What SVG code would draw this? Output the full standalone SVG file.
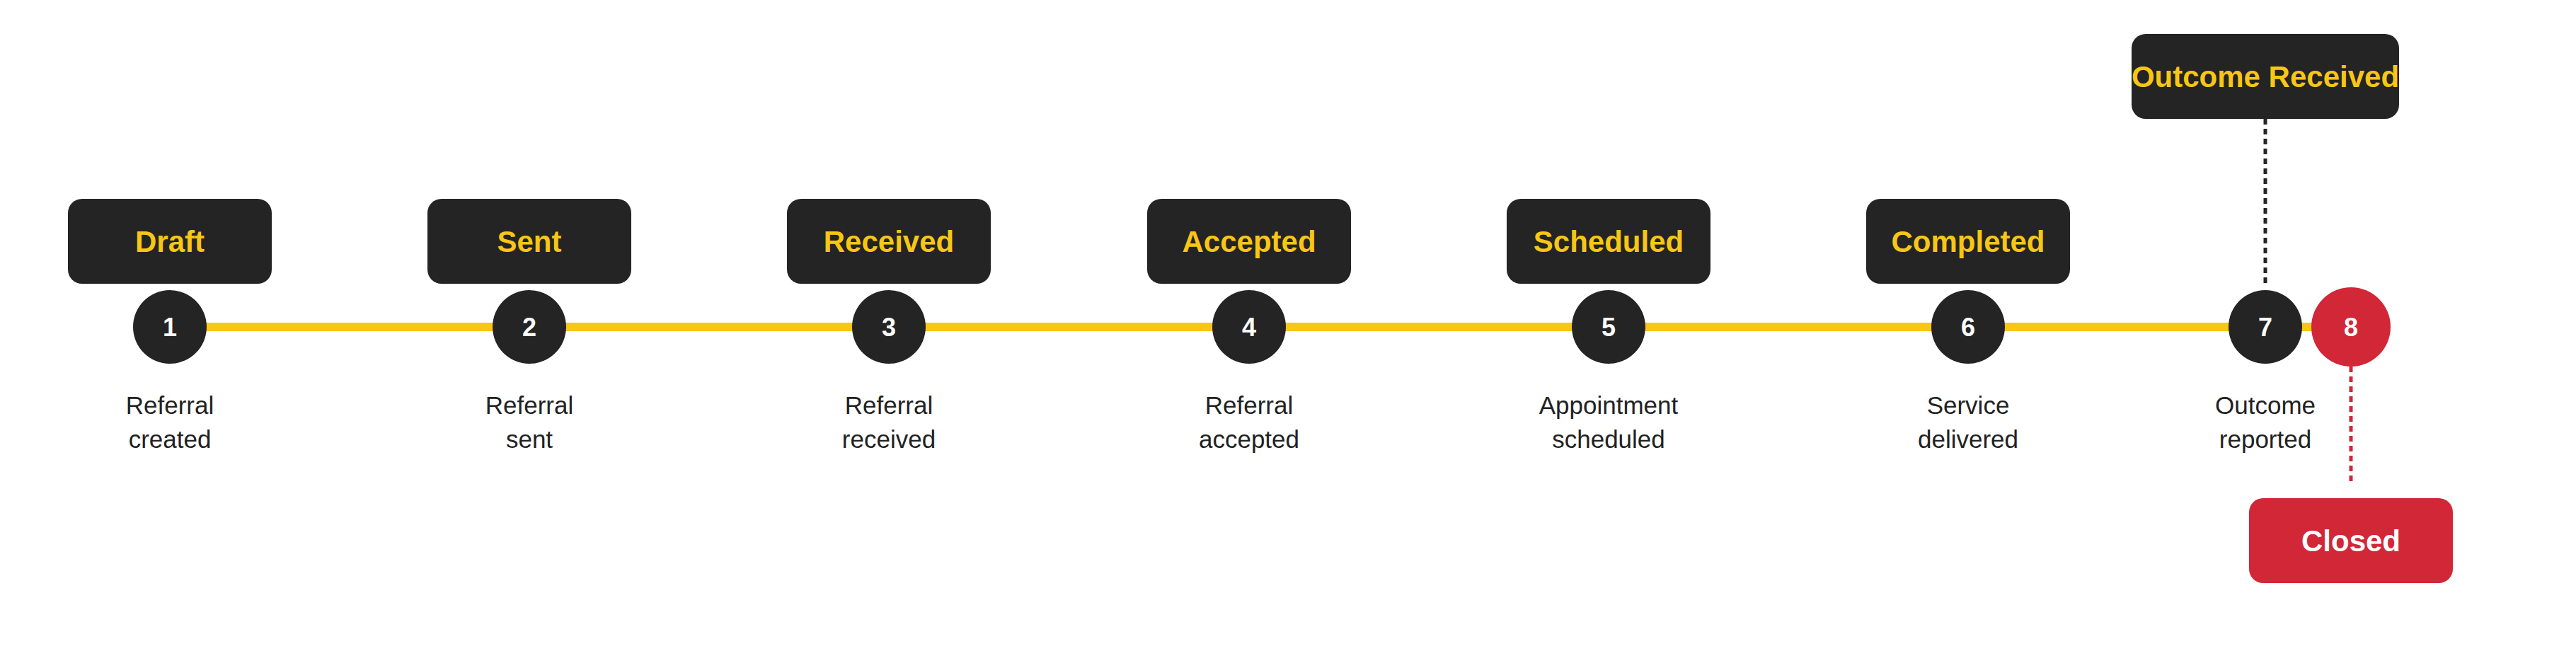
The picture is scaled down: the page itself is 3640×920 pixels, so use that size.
<svg xmlns="http://www.w3.org/2000/svg" width="3640" height="920" viewBox="0 0 3640 920">
<style>
.box{fill:#242424}
.bt{font-family:"Liberation Sans",Arial,sans-serif;font-weight:bold;font-size:42px;fill:#F8C614;text-anchor:middle}
.dot{fill:#242424}
.num{font-family:"Liberation Sans",Arial,sans-serif;font-weight:bold;font-size:36px;fill:#fff;text-anchor:middle}
.lbl{font-family:"Liberation Sans",Arial,sans-serif;font-size:35px;fill:#222;text-anchor:middle}
</style>
<rect width="3640" height="920" fill="#fff"/>
<g id="connectors">
<line x1="240" y1="462" x2="3322" y2="462" stroke="#F8C614" stroke-width="12"/>
<line x1="3201" y1="168" x2="3201" y2="406" stroke="#242424" stroke-width="5" stroke-dasharray="8 6"/>
<line x1="3322" y1="518" x2="3322" y2="684" stroke="#D12737" stroke-width="5" stroke-dasharray="8 6"/>
</g>
<g id="n1"><rect class="box" x="96" y="281" width="288" height="120" rx="20"/><text class="bt" x="240" y="356">Draft</text><circle class="dot" cx="240" cy="462" r="52"/><text class="num" x="240" y="475">1</text><text class="lbl" x="240" y="585">Referral</text><text class="lbl" x="240" y="633">created</text></g>
<g id="n2"><rect class="box" x="604" y="281" width="288" height="120" rx="20"/><text class="bt" x="748" y="356">Sent</text><circle class="dot" cx="748" cy="462" r="52"/><text class="num" x="748" y="475">2</text><text class="lbl" x="748" y="585">Referral</text><text class="lbl" x="748" y="633">sent</text></g>
<g id="n3"><rect class="box" x="1112" y="281" width="288" height="120" rx="20"/><text class="bt" x="1256" y="356">Received</text><circle class="dot" cx="1256" cy="462" r="52"/><text class="num" x="1256" y="475">3</text><text class="lbl" x="1256" y="585">Referral</text><text class="lbl" x="1256" y="633">received</text></g>
<g id="n4"><rect class="box" x="1621" y="281" width="288" height="120" rx="20"/><text class="bt" x="1765" y="356">Accepted</text><circle class="dot" cx="1765" cy="462" r="52"/><text class="num" x="1765" y="475">4</text><text class="lbl" x="1765" y="585">Referral</text><text class="lbl" x="1765" y="633">accepted</text></g>
<g id="n5"><rect class="box" x="2129" y="281" width="288" height="120" rx="20"/><text class="bt" x="2273" y="356">Scheduled</text><circle class="dot" cx="2273" cy="462" r="52"/><text class="num" x="2273" y="475">5</text><text class="lbl" x="2273" y="585">Appointment</text><text class="lbl" x="2273" y="633">scheduled</text></g>
<g id="n6"><rect class="box" x="2637" y="281" width="288" height="120" rx="20"/><text class="bt" x="2781" y="356">Completed</text><circle class="dot" cx="2781" cy="462" r="52"/><text class="num" x="2781" y="475">6</text><text class="lbl" x="2781" y="585">Service</text><text class="lbl" x="2781" y="633">delivered</text></g>
<g id="n7"><rect class="box" x="3012" y="48" width="378" height="120" rx="20"/><text class="bt" x="3201" y="123">Outcome Received</text><circle class="dot" cx="3201" cy="462" r="52"/><text class="num" x="3201" y="475">7</text><text class="lbl" x="3201" y="585">Outcome</text><text class="lbl" x="3201" y="633">reported</text></g>
<g id="n8"><circle cx="3322" cy="462" r="56" fill="#D12737"/><text class="num" x="3322" y="475">8</text><rect x="3178" y="704" width="288" height="120" rx="20" fill="#D12737"/><text class="bt" x="3322" y="779" style="fill:#fff">Closed</text></g>
</svg>
